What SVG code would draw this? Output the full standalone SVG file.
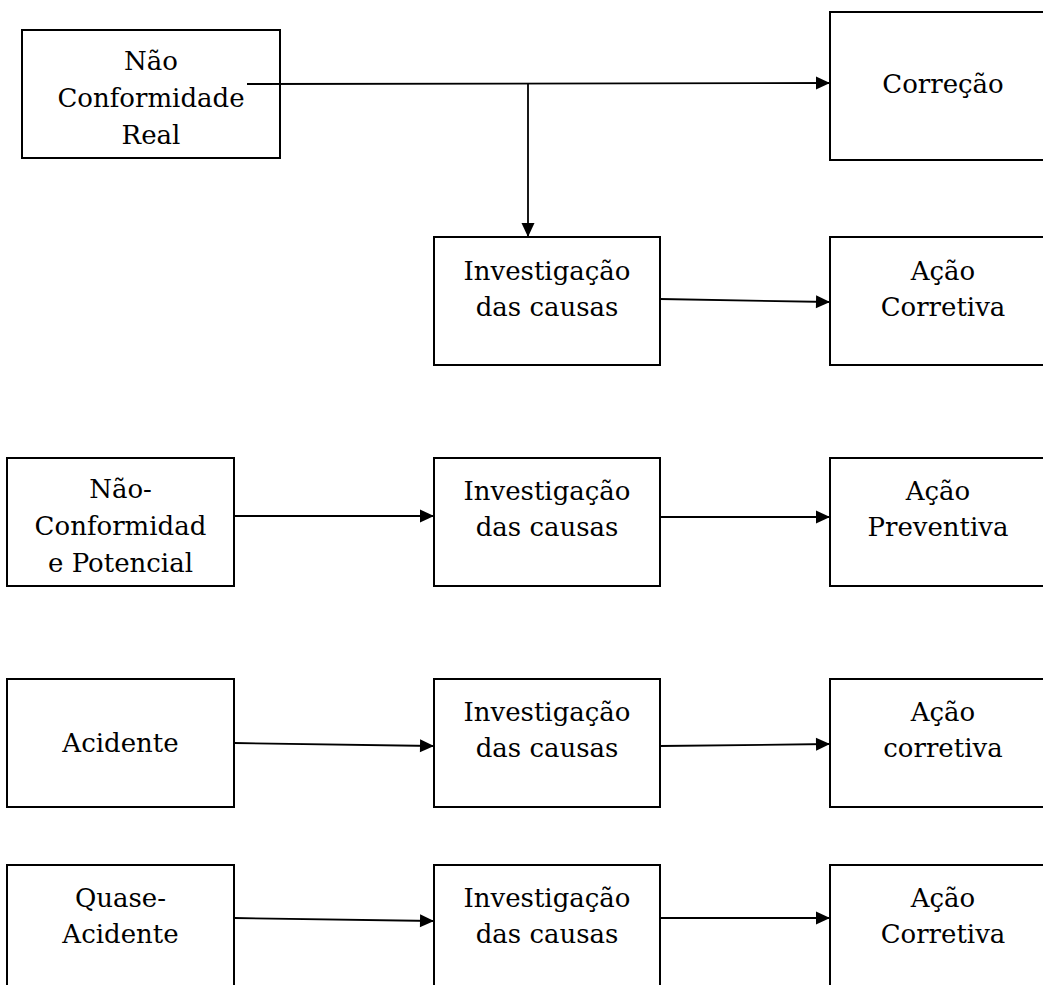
<svg xmlns="http://www.w3.org/2000/svg" width="1043" height="985" viewBox="0 0 1043 985">
<style>
.box{fill:#fff;stroke:#000;stroke-width:2}
.t{font-family:"DejaVu Serif","Liberation Serif",serif;font-size:26px;fill:#000;text-anchor:middle}
.c{fill:none;stroke:#000;stroke-width:1.8}
</style>
<defs>
<marker id="ah" markerUnits="userSpaceOnUse" markerWidth="16" markerHeight="16" viewBox="0 0 16 16" refX="15" refY="8" orient="auto">
<path d="M1,1.5 L15,8 L1,14.5 Z" fill="#000"/>
</marker>
</defs>
<rect width="1043" height="985" fill="#fff"/>
<g id="n1"><rect class="box" x="22" y="30" width="258" height="128"/>
<text class="t" x="151" y="70">Não</text><text class="t" x="151" y="107">Conformidade</text><text class="t" x="151" y="144">Real</text></g>
<g id="n2"><rect class="box" x="830" y="12" width="240" height="148"/>
<text class="t" x="943" y="93">Correção</text></g>
<g id="n3"><rect class="box" x="434" y="237" width="226" height="128"/>
<text class="t" x="547" y="280">Investigação</text><text class="t" x="547" y="316">das causas</text></g>
<g id="n4"><rect class="box" x="830" y="237" width="240" height="128"/>
<text class="t" x="943" y="280">Ação</text><text class="t" x="943" y="316">Corretiva</text></g>
<g id="n5"><rect class="box" x="7" y="458" width="227" height="128"/>
<text class="t" x="120.5" y="498">Não-</text><text class="t" x="120.5" y="535">Conformidad</text><text class="t" x="120.5" y="572">e Potencial</text></g>
<g id="n6"><rect class="box" x="434" y="458" width="226" height="128"/>
<text class="t" x="547" y="500">Investigação</text><text class="t" x="547" y="536">das causas</text></g>
<g id="n7"><rect class="box" x="830" y="458" width="240" height="128"/>
<text class="t" x="938" y="500">Ação</text><text class="t" x="938" y="536">Preventiva</text></g>
<g id="n8"><rect class="box" x="7" y="679" width="227" height="128"/>
<text class="t" x="120.5" y="752">Acidente</text></g>
<g id="n9"><rect class="box" x="434" y="679" width="226" height="128"/>
<text class="t" x="547" y="721">Investigação</text><text class="t" x="547" y="757">das causas</text></g>
<g id="n10"><rect class="box" x="830" y="679" width="240" height="128"/>
<text class="t" x="943" y="721">Ação</text><text class="t" x="943" y="757">corretiva</text></g>
<g id="n11"><rect class="box" x="7" y="865" width="227" height="140"/>
<text class="t" x="120.5" y="907">Quase-</text><text class="t" x="120.5" y="943">Acidente</text></g>
<g id="n12"><rect class="box" x="434" y="865" width="226" height="140"/>
<text class="t" x="547" y="907">Investigação</text><text class="t" x="547" y="943">das causas</text></g>
<g id="n13"><rect class="box" x="830" y="865" width="240" height="140"/>
<text class="t" x="943" y="907">Ação</text><text class="t" x="943" y="943">Corretiva</text></g>
<g id="connectors">
<path class="c" d="M247,84 L830,83" marker-end="url(#ah)"/>
<path class="c" d="M528,83 L528,237" marker-end="url(#ah)"/>
<path class="c" d="M660,299 L830,302" marker-end="url(#ah)"/>
<path class="c" d="M234,516 L434,516" marker-end="url(#ah)"/>
<path class="c" d="M660,517 L830,517" marker-end="url(#ah)"/>
<path class="c" d="M234,743 L434,746" marker-end="url(#ah)"/>
<path class="c" d="M660,746 L830,744" marker-end="url(#ah)"/>
<path class="c" d="M234,918 L434,921" marker-end="url(#ah)"/>
<path class="c" d="M660,918 L830,918" marker-end="url(#ah)"/>
</g>
</svg>
